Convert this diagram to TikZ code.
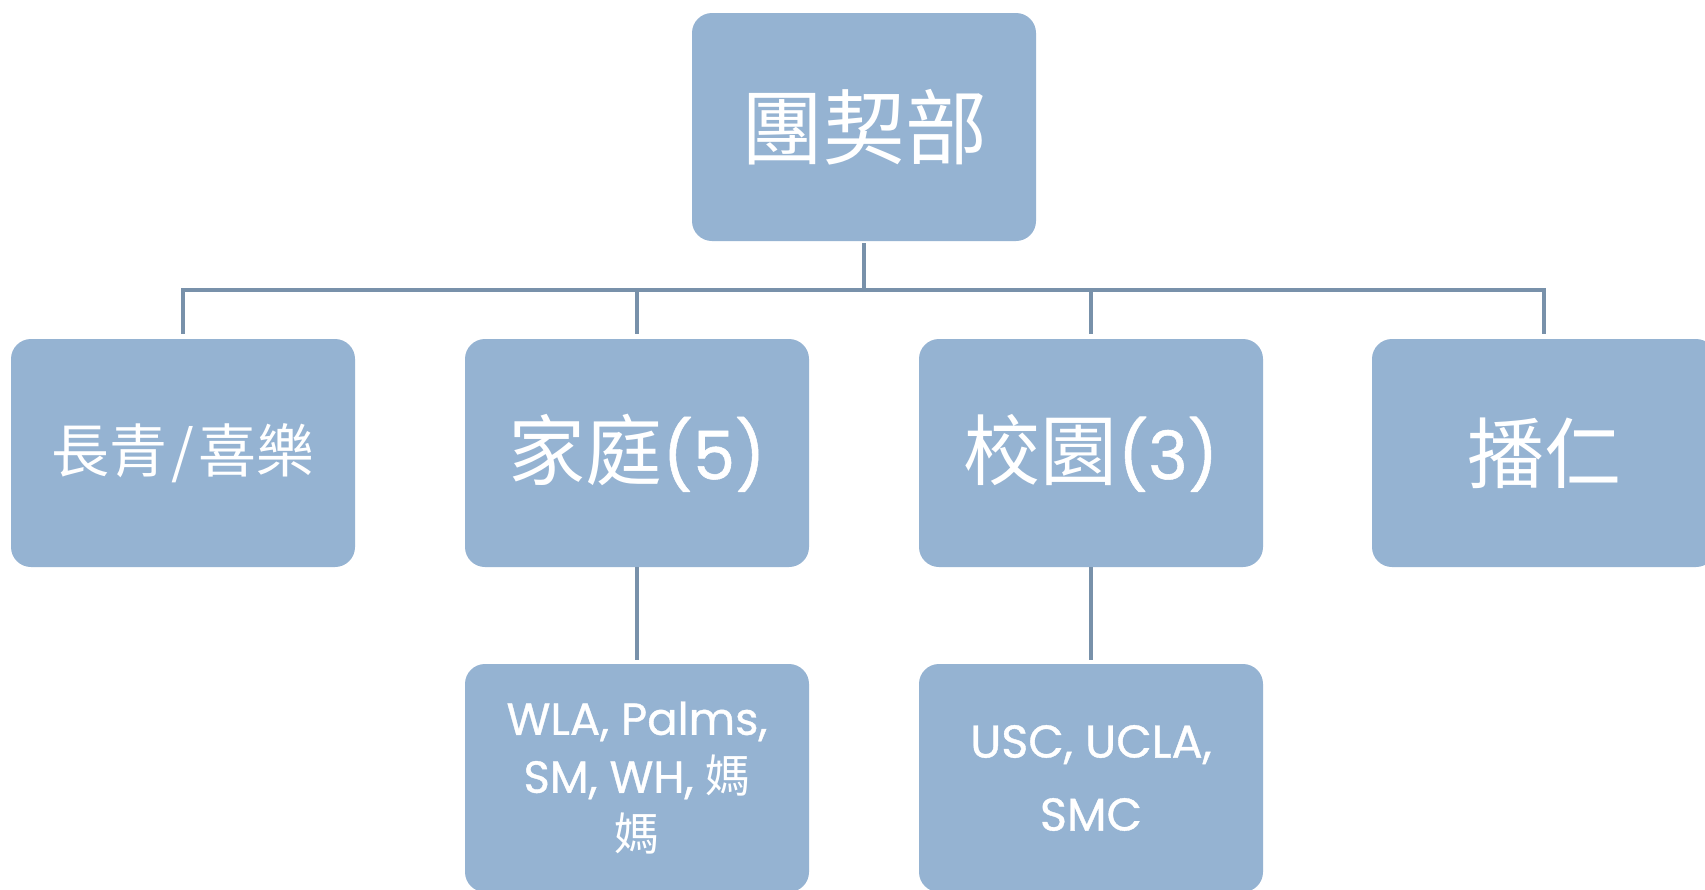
\documentclass[tikz,border=0pt]{standalone}
\usepackage{fontspec}
\setmainfont{Poppins}[FakeBold=0.8]
\newfontfamily\cjk{Noto Sans CJK TC}
\definecolor{boxfill}{HTML}{95B3D2}
\definecolor{linecol}{HTML}{7891AA}
\tikzset{
  orgbox/.style={rectangle, rounded corners=20pt, fill=boxfill, text=white,
    minimum width=344pt, minimum height=228pt, inner sep=0pt, align=center},
  conn/.style={draw=linecol, line width=4pt},
}
\begin{document}
\begin{tikzpicture}[x=1pt,y=-1pt]
\useasboundingbox (0,0) rectangle (1705,889);
\clip (0,0) rectangle (1705,889);
\fill[white] (0,0) rectangle (1705,889);
% top
\node[orgbox] (top) at (864,127) {\raisebox{6pt}{\fontsize{82}{90}\selectfont\cjk 團契部}};
% level 1
\node[orgbox] (b1) at (183,453) {\fontsize{58}{64}\selectfont\cjk 長青\hspace{4pt}/\hspace{4pt}喜樂};
\node[orgbox] (b2) at (637,453) {{\fontsize{77}{84}\selectfont\cjk 家庭}{\fontsize{67}{74}\selectfont(5)}};
\node[orgbox] (b3) at (1091,453) {{\fontsize{77}{84}\selectfont\cjk 校園}{\fontsize{67}{74}\selectfont(3)}};
\node[orgbox] (b4) at (1544,453) {\fontsize{77}{84}\selectfont\cjk 播仁};
% level 2
\node[orgbox, font=\fontsize{45}{58}\selectfont] (c2) at (637,778) {WLA, Palms,\\ SM, WH, {\cjk 媽}\\{\cjk 媽}};
\node[orgbox, font=\fontsize{46}{73}\selectfont] (c3) at (1091,778) {USC, UCLA,\\ SMC};
% connectors
\coordinate (bus) at (0,290);
\draw[conn, shorten <=2pt] (top.south) -- (top.south |- bus);
\draw[conn, shorten <=5pt, shorten >=5pt] (b1.north) -- (b1.north |- bus) -- (b4.north |- bus) -- (b4.north);
\draw[conn, shorten <=5pt] (b2.north) -- (b2.north |- bus);
\draw[conn, shorten <=5pt] (b3.north) -- (b3.north |- bus);
\draw[conn, shorten >=4pt] (b2.south) -- (c2.north);
\draw[conn, shorten >=4pt] (b3.south) -- (c3.north);
\end{tikzpicture}
\end{document}
